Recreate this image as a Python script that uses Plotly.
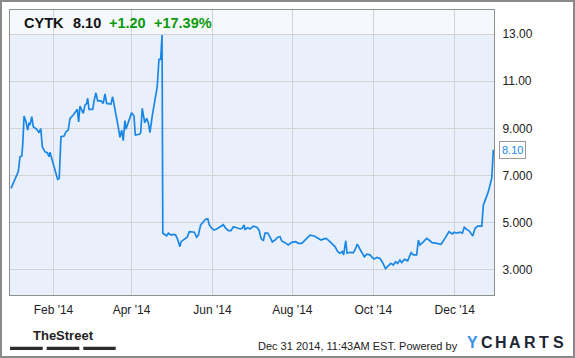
import plotly.graph_objects as go

# ---- data (trading-session index across 2014, closing price) ----
trading_day = [0, 3.8, 4.7, 5.6, 6.1, 6.8, 7.8, 8.7, 9.4, 9.9, 10.8, 11.6, 13.4, 14.6, 15.5, 16.3,
               17.7, 18.9, 19.8, 20.3, 21.2, 22.9, 24.3, 25.1, 26.0, 27.6, 28.6, 29.8, 30.7, 32.4,
               34.5, 35.2, 35.9, 37.6, 38.5, 39.4, 39.9, 40.6, 42.5, 43.3, 44.2, 45.1, 46.8, 48.0,
               48.9, 49.8, 52.0, 52.9, 54.1, 55.8, 56.7, 57.6, 58.4, 59.3, 59.8, 61.0, 62.8, 64.0,
               64.7, 66.8, 67.5, 68.3, 69.6, 70.6, 71.5, 72.3, 73.5, 76.1, 77.0, 77.9, 78.6, 79.0,
               79.8, 81.0, 81.9, 83.3, 84.5, 85.7, 86.7, 87.9, 88.5, 89.7, 91.7, 92.8, 94.0, 95.4,
               96.6, 97.5, 98.7, 100.1, 101.3, 102.4, 103.2, 104.4, 105.6, 107.0, 108.8, 110.5,
               111.7, 113.1, 114.5, 115.7, 117.5, 119.2, 120.4, 121.3, 121.8, 123.2, 124.4, 126.1,
               127.9, 129.1, 130.1, 131.3, 132.2, 133.6, 134.8, 136.0, 137.4, 138.8, 140.0, 140.9,
               142.6, 144.3, 146.1, 148.2, 149.5, 151.3, 153.4, 155.6, 157.8, 159.6, 161.3, 162.5,
               163.9, 165.1, 166.9, 168.6, 170.0, 171.2, 172.4, 173.1, 174.2, 174.9, 176.4, 178.1,
               179.0, 180.2, 181.6, 182.8, 183.9, 185.1, 186.8, 187.7, 188.9, 190.5, 192.0, 193.2,
               194.9, 196.3, 197.7, 198.9, 200.2, 201.2, 202.4, 203.3, 204.7, 206.4, 208.2, 209.4,
               211.1, 212.0, 212.8, 214.2, 216.3, 217.5, 219.2, 221.5, 223.8, 225.8, 227.9, 229.7,
               230.7, 231.9, 233.7, 234.9, 235.9, 237.2, 238.5, 240.3, 241.5, 242.9, 245.0, 245.8,
               246.7, 248.4, 250.2, 251.0]
price = [6.46, 7.17, 7.80, 7.83, 8.30, 9.53, 9.28, 8.93, 9.24, 9.14, 9.50, 9.07, 8.96, 8.82, 8.99, 8.22,
         8.01, 7.97, 7.80, 7.99, 7.73, 7.24, 6.84, 6.89, 8.65, 8.68, 8.86, 8.93, 9.43, 9.57,
         9.81, 9.28, 9.95, 9.64, 9.99, 10.06, 10.28, 9.81, 9.81, 10.20, 10.51, 10.17, 10.17, 10.06,
         10.46, 10.06, 10.03, 10.34, 9.85, 9.07, 8.62, 8.93, 8.48, 9.33, 8.97, 9.22, 9.67, 9.53,
         8.72, 8.75, 8.82, 9.85, 9.24, 9.43, 9.22, 8.82, 9.53, 10.77, 11.93, 11.93, 12.96, 4.56,
         4.51, 4.45, 4.56, 4.48, 4.51, 4.48, 4.30, 3.99, 4.20, 4.27, 4.39, 4.62, 4.62, 4.60,
         4.39, 4.48, 4.91, 5.05, 5.15, 5.17, 4.91, 4.77, 4.69, 4.74, 4.83, 4.92,
         4.77, 4.67, 4.67, 4.83, 4.79, 4.74, 4.77, 4.91, 4.72, 4.79, 4.74, 4.86,
         4.81, 4.69, 4.34, 4.24, 4.56, 4.56, 4.39, 4.19, 4.27, 4.39, 4.41, 4.23,
         4.16, 4.06, 4.17, 4.20, 4.13, 4.13, 4.30, 4.48, 4.44, 4.34, 4.27, 4.31,
         4.34, 4.27, 4.13, 3.99, 3.78, 3.71, 3.78, 3.64, 4.24, 3.71, 3.75, 3.73,
         3.85, 4.10, 3.88, 3.71, 3.56, 3.67, 3.64, 3.56, 3.47, 3.53, 3.49, 3.34,
         3.06, 3.17, 3.28, 3.21, 3.35, 3.28, 3.42, 3.31, 3.45, 3.39, 3.73, 3.64,
         3.64, 4.27, 4.06, 4.16, 4.34, 4.27, 4.16, 4.13, 4.09, 4.34, 4.62, 4.53,
         4.60, 4.56, 4.60, 4.56, 4.81, 4.72, 4.65, 4.44, 4.77, 4.86, 4.86, 5.75,
         5.97, 6.32, 6.90, 8.10]

x_tick_pos = [22.1, 62.7, 104.8, 146.4, 188.5, 230.9]
x_tick_labels = ["Feb '14", "Apr '14", "Jun '14", "Aug '14", "Oct '14", "Dec '14"]
y_tick_vals = [3, 5, 7, 9, 11, 13]
y_tick_labels = ["3.000", "5.000", "7.000", "9.000", "11.00", "13.00"]

ticker = "CYTK"
last_price = "8.10"
change = "+1.20"
change_pct = "+17.39%"
timestamp = "Dec 31 2014, 11:43AM EST. Powered by"

LINE = "#1a87e6"
GREEN = "#0a9a0a"
FONT = "Liberation Sans, Arial, sans-serif"

fig = go.Figure()
fig.add_trace(go.Scatter(x=trading_day, y=price, mode="lines",
                         line=dict(color=LINE, width=1.7), hoverinfo="skip",
                         showlegend=False))

W, H = 575, 358
ml, mr, mt, mb = 10, 81, 10, 63
pw, ph = W - ml - mr, H - mt - mb

def px(xp):  # pixel -> paper x
    return (xp - ml) / pw

def py(yp):  # pixel -> paper y
    return (H - mb - yp) / ph

shapes = []
# header band (below gridlines)
shapes.append(dict(type="rect", xref="paper", yref="paper", x0=0, x1=1, y0=py(34), y1=1,
                   fillcolor="#f5f8fd", line=dict(width=0), layer="below"))
# outer frame
shapes.append(dict(type="rect", xref="paper", yref="paper", x0=px(1), x1=px(574),
                   y0=py(357), y1=py(1), line=dict(color="#8a8a8a", width=2),
                   fillcolor="rgba(0,0,0,0)", layer="above"))
# TheStreet bars
for a, b in [(10, 42.7), (46.7, 79.3), (83.3, 115.7)]:
    shapes.append(dict(type="rect", xref="paper", yref="paper", x0=px(a), x1=px(b),
                       y0=py(350), y1=py(346.7), fillcolor="#2b2b2b", line=dict(width=0),
                       layer="above"))

annotations = []
hy = py(23.3)
for txt, xp, col in [(ticker, 21.7, "#111111"), (last_price, 70.7, "#111111"),
                     (change, 106.7, GREEN), (change_pct, 151.7, GREEN)]:
    annotations.append(dict(text="<b>%s</b>" % txt, xref="paper", yref="paper", x=px(xp), y=hy,
                            xanchor="left", yanchor="middle", showarrow=False,
                            font=dict(family=FONT, size=14.5, color=col)))
# last value callout
annotations.append(dict(text=last_price, xref="paper", yref="y", x=1, y=8.10, xshift=5,
                        xanchor="left", yanchor="middle", showarrow=False,
                        font=dict(family=FONT, size=11, color=LINE),
                        bgcolor="white", bordercolor="#9a9a9a", borderwidth=1, borderpad=2))
# footer: TheStreet
annotations.append(dict(text="<b>TheStreet</b>", xref="paper", yref="paper", x=px(63.3), y=py(335.5),
                        xanchor="center", yanchor="middle", showarrow=False,
                        font=dict(family="Liberation Sans Narrow, Liberation Sans, sans-serif",
                                  size=13, color="#222222")))
annotations.append(dict(text=timestamp, xref="paper", yref="paper", x=px(459.5), y=py(346),
                        xanchor="right", yanchor="middle", showarrow=False,
                        font=dict(family=FONT, size=11, color="#222222")))
# YCHARTS logo letters
for i, ch in enumerate("YCHARTS"):
    annotations.append(dict(text="<b>%s</b>" % ch, xref="paper", yref="paper",
                            x=px(472.2 + i * 14.4), y=py(342.5), xanchor="center",
                            yanchor="middle", showarrow=False,
                            font=dict(family=FONT, size=16,
                                      color="#3d8fe6" if ch == "Y" else "#1d2633")))

fig.update_layout(
    width=W, height=H,
    margin=dict(l=ml, r=mr, t=mt, b=mb, pad=0),
    paper_bgcolor="white",
    plot_bgcolor="#eaf0fb",
    shapes=shapes,
    annotations=annotations,
    font=dict(family=FONT, size=12, color="#222222"),
    xaxis=dict(range=[-0.52, 251.35], tickmode="array", tickvals=x_tick_pos,
               ticktext=x_tick_labels, showgrid=True, gridcolor="#d3d3d6", gridwidth=1,
               zeroline=False, showline=True, linecolor="#8f8f8f", linewidth=1, mirror=True,
               ticks="", ticklabelstandoff=4, tickfont=dict(size=12, color="#222222")),
    yaxis=dict(range=[1.94, 14.02], side="right", tickmode="array", tickvals=y_tick_vals,
               ticktext=y_tick_labels, showgrid=True, gridcolor="#d3d3d6", gridwidth=1,
               zeroline=False, showline=True, linecolor="#8f8f8f", linewidth=1, mirror=True,
               ticks="", ticklabelstandoff=5, tickfont=dict(size=12, color="#222222")),
    showlegend=False,
)

fig.write_html("out.html", config={"displayModeBar": False},
               post_script="document.body.style.margin='0px';document.body.style.overflow='hidden';")
